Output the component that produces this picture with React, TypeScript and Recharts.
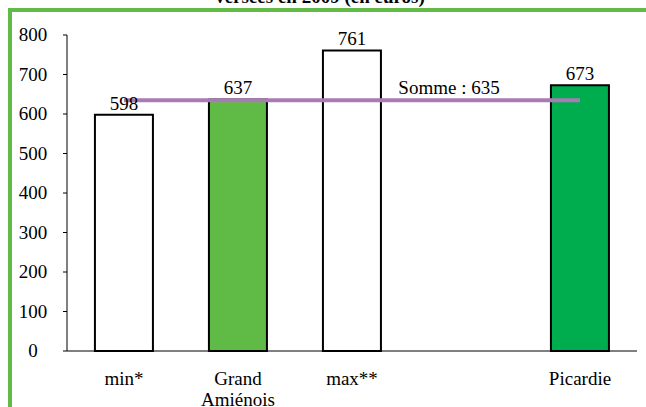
import { ComposedChart, Bar, Line, XAxis, YAxis, Cell, LabelList } from 'recharts';

const categories = ['min*', 'Grand\nAmiénois', 'max**', '', 'Picardie'];
const montants = [598, 637, 761, null, 673];
const somme = 635;
const yTicks = [0, 100, 200, 300, 400, 500, 600, 700, 800];

const FILLS = ['#ffffff', '#60BB46', '#ffffff', '#ffffff', '#00AD4E'];
const FONT = 'Liberation Serif, serif';
const textStyle = { fontFamily: FONT, fontSize: 19 };

const data = categories.map((cat, i) => ({
  cat,
  value: montants[i],
  somme,
}));

const XTick = (props: any) => {
  const { x, y, payload } = props;
  const lines = String(payload.value).split('\n');
  return (
    <text x={x} y={y} textAnchor="middle" style={textStyle} fill="#000">
      {lines.map((l, i) => (
        <tspan key={i} x={x} dy={i === 0 ? 34 : 21}>
          {l}
        </tspan>
      ))}
    </text>
  );
};

const YTick = (props: any) => {
  const { x, y, payload } = props;
  return (
    <text x={x - 28} y={y} dy={6} textAnchor="middle" style={textStyle} fill="#000">
      {payload.value}
    </text>
  );
};

const SommeLabel = (props: any) => {
  const { x, y, index } = props;
  if (index !== 3) return null;
  return (
    <text x={x - 17} y={y - 6} textAnchor="middle" style={textStyle} fill="#000">
      {`Somme : ${somme}`}
    </text>
  );
};

export default function App() {
  return (
    <div style={{ position: 'absolute', left: 0, top: 0, width: 646, height: 407, overflow: 'hidden', background: '#fff', fontFamily: FONT }}>
      <svg width={646} height={20} style={{ position: 'absolute', left: 0, top: 0 }}>
        <text x={320} y={3} textAnchor="middle" style={{ fontFamily: FONT, fontSize: 19, fontWeight: 'bold' }} fill="#000">
          versées en 2009 (en euros)
        </text>
      </svg>
      <div
        style={{
          position: 'absolute',
          left: 8,
          top: 8,
          width: 660,
          height: 420,
          borderTop: '4px solid #62BB46',
          borderLeft: '4px solid #62BB46',
          boxSizing: 'border-box',
        }}
      />
      <div style={{ position: 'absolute', left: 0, top: 0 }}>
        <ComposedChart
          width={646}
          height={407}
          data={data}
          margin={{ top: 35, right: 9, bottom: 0, left: 0 }}
          barCategoryGap="24.5%"
          style={{ fontFamily: FONT }}
        >
          <XAxis
            dataKey="cat"
            height={56}
            tickLine={false}
            tickSize={0}
            tickMargin={0}
            interval={0}
            stroke="#000"
            tick={<XTick />}
          />
          <YAxis
            width={67}
            domain={[0, 800]}
            ticks={yTicks}
            interval={0}
            tickSize={4}
            tickMargin={2}
            stroke="#000"
            tick={<YTick />}
          />
          <Bar dataKey="value" stroke="#000" strokeWidth={2} isAnimationActive={false}>
            {data.map((d, i) => (
              <Cell key={i} fill={FILLS[i]} />
            ))}
            <LabelList dataKey="value" position="top" offset={5} style={textStyle} fill="#000" />
          </Bar>
          <Line
            dataKey="somme"
            stroke="#A87BB5"
            strokeWidth={4}
            dot={false}
            isAnimationActive={false}
            label={<SommeLabel />}
          />
        </ComposedChart>
      </div>
    </div>
  );
}
